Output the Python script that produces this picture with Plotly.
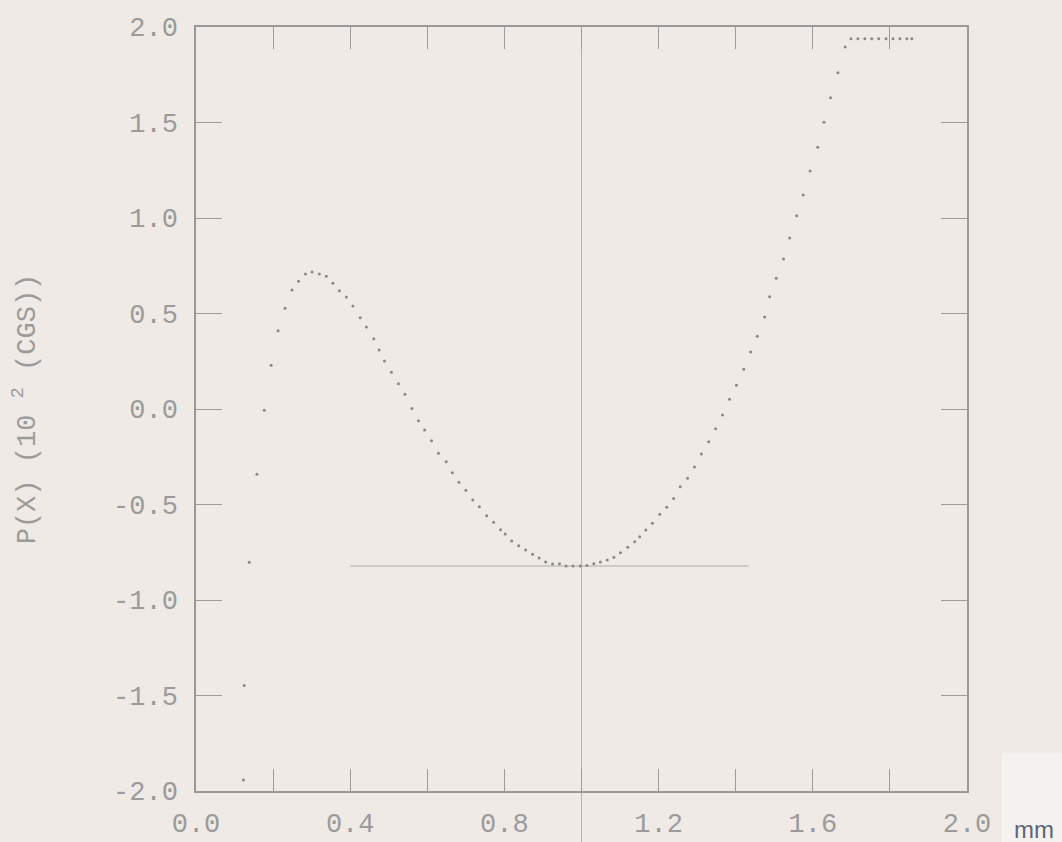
import plotly.graph_objects as go

# ---- data ----
x_vals = [0.123, 0.125, 0.138, 0.158, 0.177, 0.195, 0.213, 0.231, 0.249, 0.266,
          0.284, 0.301, 0.320, 0.338, 0.355, 0.372, 0.390, 0.407, 0.426, 0.442,
          0.461, 0.475, 0.489, 0.507, 0.525, 0.542, 0.560, 0.577, 0.593, 0.611,
          0.629, 0.649, 0.665, 0.682, 0.700, 0.718, 0.735, 0.754, 0.772, 0.790,
          0.802, 0.819, 0.837, 0.855, 0.873, 0.890, 0.907, 0.925, 0.943, 0.960,
          0.978, 0.997, 1.014, 1.032, 1.049, 1.067, 1.084, 1.101, 1.120, 1.138,
          1.151, 1.167, 1.184, 1.203, 1.221, 1.239, 1.256, 1.275, 1.293, 1.311,
          1.330, 1.348, 1.366, 1.384, 1.402, 1.421, 1.439, 1.456, 1.475, 1.488,
          1.505, 1.524, 1.540, 1.558, 1.575, 1.593, 1.613, 1.629, 1.646, 1.665,
          1.684, 1.699, 1.717, 1.735, 1.753, 1.771, 1.790, 1.808, 1.826, 1.844,
          1.857]
y_vals = [-1.942, -1.447, -0.803, -0.342, -0.007, 0.229, 0.410, 0.527, 0.623, 0.669,
          0.707, 0.717, 0.707, 0.695, 0.658, 0.619, 0.586, 0.539, 0.478, 0.429,
          0.368, 0.309, 0.251, 0.192, 0.132, 0.077, 0.002, -0.061, -0.110, -0.166,
          -0.232, -0.276, -0.334, -0.384, -0.426, -0.476, -0.512, -0.559, -0.593, -0.632,
          -0.654, -0.691, -0.716, -0.738, -0.761, -0.780, -0.801, -0.812, -0.810, -0.822,
          -0.822, -0.822, -0.820, -0.810, -0.801, -0.791, -0.776, -0.752, -0.724, -0.695,
          -0.669, -0.634, -0.598, -0.551, -0.515, -0.468, -0.407, -0.363, -0.304, -0.236,
          -0.171, -0.103, -0.031, 0.051, 0.124, 0.208, 0.298, 0.381, 0.482, 0.588,
          0.684, 0.785, 0.895, 1.012, 1.120, 1.246, 1.370, 1.501, 1.630, 1.761,
          1.895, 1.939, 1.939, 1.939, 1.939, 1.939, 1.939, 1.939, 1.939, 1.939,
          1.939]

min_level = -0.822
min_line_x = [0.40, 1.434]
center_x = 1.0

x_tickvals = [0.0, 0.4, 0.8, 1.2, 1.6, 2.0]
x_ticktext = ["0.0", "0.4", "0.8", "1.2", "1.6", "2.0"]
x_minor_ticks = [0.2, 0.6, 1.0, 1.4, 1.8]
y_tickvals = [-2.0, -1.5, -1.0, -0.5, 0.0, 0.5, 1.0, 1.5, 2.0]
y_ticktext = ["-2.0", "-1.5", "-1.0", "-0.5", "0.0", "0.5", "1.0", "1.5", "2.0"]

y_title = "P(X) (10 <sup>2</sup> (CGS))"
x_unit = "mm"

PAPER = "#efeae5"
INK = "#9b9b9b"
FONT = "Liberation Mono"

fig = go.Figure()

fig.add_trace(go.Scatter(
    x=min_line_x, y=[min_level, min_level], mode="lines",
    line=dict(color="#ababab", width=1), hoverinfo="skip", showlegend=False))

fig.add_trace(go.Scatter(
    x=x_vals, y=y_vals, mode="markers",
    marker=dict(size=3, color="#888888"), showlegend=False))

fig.add_shape(type="line", xref="x", yref="paper", x0=center_x, x1=center_x,
              y0=-0.07, y1=1, line=dict(color="#b3b3b3", width=1), layer="below")

# lighter paper patch at the lower right corner of the scan
fig.add_shape(type="rect", xref="paper", yref="paper", x0=1.045, x1=1.125,
              y0=-0.07, y1=0.05, line=dict(width=0), fillcolor="#f4f2ef", layer="below")

fig.add_annotation(text=x_unit, xref="paper", yref="paper", x=1.087, y=-0.05,
                   xanchor="center", yanchor="middle", showarrow=False,
                   font=dict(family="Liberation Sans", size=24, color="#5f6578"))

fig.update_layout(
    width=1062, height=842,
    margin=dict(l=196, r=95, t=27, b=51),
    paper_bgcolor=PAPER, plot_bgcolor=PAPER,
    font=dict(family=FONT, size=27, color=INK),
    xaxis=dict(range=[0, 2.0], tickvals=x_tickvals, ticktext=x_ticktext,
               ticks="inside", ticklen=22, tickwidth=1, tickcolor="#9c9c9c",
               minor=dict(tickvals=x_minor_ticks, ticks="inside", ticklen=22,
                          tickwidth=1, tickcolor="#9c9c9c", showgrid=False),
               showline=True, linecolor="#999999", linewidth=1.5, mirror="ticks",
               showgrid=False, zeroline=False, ticklabelstandoff=7, automargin=False),
    yaxis=dict(range=[-2.0, 2.0], tickvals=y_tickvals, ticktext=y_ticktext,
               ticks="inside", ticklen=26, tickwidth=1, tickcolor="#9c9c9c",
               showline=True, linecolor="#999999", linewidth=1.5, mirror="ticks",
               showgrid=False, zeroline=False, ticklabelstandoff=11, automargin=False,
               title=dict(text=y_title, font=dict(family=FONT, size=27, color=INK), standoff=70)),
)

fig.write_html(
    "out.html",
    config={"displayModeBar": False},
    post_script="document.body.style.margin='0';document.body.style.background='%s';" % PAPER,
)
